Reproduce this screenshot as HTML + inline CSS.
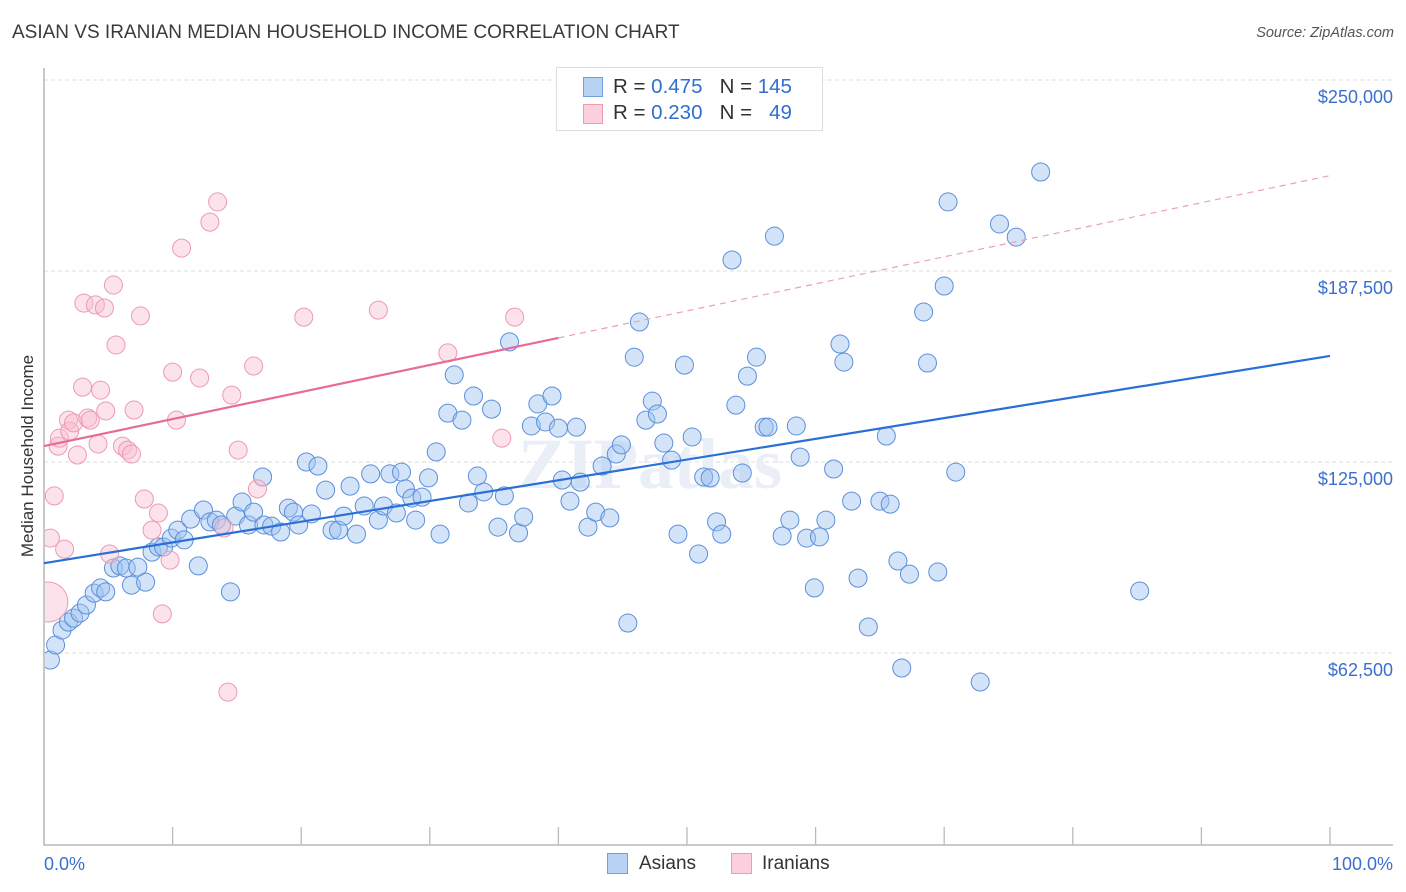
<!DOCTYPE html>
<html><head><meta charset="utf-8">
<style>
body{margin:0;background:#fff;font-family:"Liberation Sans",sans-serif;}
#wrap{position:relative;width:1406px;height:892px;overflow:hidden;}
.t{position:absolute;white-space:nowrap;}
</style></head>
<body>
<div id="wrap">
<div class="t" style="left:12px;top:22px;font-size:19px;color:#3a3a3a;">ASIAN VS IRANIAN MEDIAN HOUSEHOLD INCOME CORRELATION CHART</div>
<div class="t" style="right:12px;top:25px;font-size:14.5px;color:#555;font-style:italic;">Source: ZipAtlas.com</div>
<svg id="plot" width="1406" height="892" style="position:absolute;left:0;top:0"><defs><clipPath id="pc"><rect x="45" y="60" width="1360" height="785"/></clipPath></defs></svg>
<div class="t" style="left:28px;top:456px;font-size:17px;color:#333;transform:translate(-50%,-50%) rotate(-90deg);">Median Household Income</div>
<div style="position:absolute;left:556px;top:67px;width:265px;height:62px;border:1px solid #ddd;background:#fff;font-size:20.5px;">
 <div style="position:absolute;left:26px;top:9px;width:18px;height:18px;background:#b9d3f5;border:1px solid #6f9fe0;"></div>
 <div class="t" style="left:56px;top:7px;color:#333;">R = <span style="color:#2f6fd0">0.475</span>&nbsp;&nbsp;&nbsp;N = <span style="color:#2f6fd0">145</span></div>
 <div style="position:absolute;left:26px;top:36px;width:18px;height:18px;background:#fbd0dc;border:1px solid #ee9ab2;"></div>
 <div class="t" style="left:56px;top:33px;color:#333;">R = <span style="color:#2f6fd0">0.230</span>&nbsp;&nbsp;&nbsp;N = &nbsp;&nbsp;<span style="color:#2f6fd0">49</span></div>
</div>
<div style="position:absolute;left:607px;top:853px;width:19px;height:19px;background:#b9d3f5;border:1px solid #6f9fe0;"></div>
<div class="t" style="left:639px;top:853px;font-size:19px;color:#333;">Asians</div>
<div style="position:absolute;left:731px;top:853px;width:19px;height:19px;background:#fbd0dc;border:1px solid #ee9ab2;"></div>
<div class="t" style="left:762px;top:853px;font-size:19px;color:#333;">Iranians</div>
</div>
<script>
const yTickValues=[62.5,125,187.5,250];
const yTickLabels=["$62,500","$125,000","$187,500","$250,000"];
const xTickLabels=["0.0%","100.0%"];
const asianX=[0.5,0.9,1.4,1.9,2.3,2.8,3.3,3.9,4.4,4.8,5.4,5.9,6.4,6.8,7.3,7.9,8.4,8.9,9.3,9.9,10.4,10.9,11.4,12.0,12.4,12.9,13.4,13.8,14.5,14.9,15.4,15.9,16.3,17.1,17.7,18.4,17.0,19.0,19.4,19.8,20.4,20.8,21.3,21.9,22.4,22.9,23.3,23.8,24.3,24.9,25.4,26.0,26.4,26.9,27.4,27.8,28.1,28.6,28.9,29.4,29.9,30.5,30.8,31.4,31.9,32.5,33.0,33.4,33.7,34.2,34.8,35.3,35.8,36.2,36.9,37.3,37.9,38.4,39.0,39.5,40.0,40.3,40.9,41.4,41.7,42.3,42.9,43.4,44.0,44.5,44.9,45.4,45.9,46.3,46.8,47.3,47.7,48.2,48.8,49.3,49.8,50.4,50.9,51.3,51.8,52.3,52.7,53.5,53.8,54.3,54.7,55.4,56.0,56.3,56.8,57.4,58.0,58.5,58.8,59.3,59.9,60.3,60.8,61.4,61.9,62.2,62.8,63.3,64.1,65.0,65.5,65.8,66.4,66.7,67.3,68.4,68.7,69.5,70.0,70.3,70.9,72.8,74.3,75.6,77.5,85.2];
const asianY=[60.2,65.1,70.0,72.6,73.9,75.6,78.2,82.1,83.8,82.5,90.3,91.0,90.3,84.7,90.6,85.7,95.5,97.2,97.2,100.1,102.7,99.5,106.3,91.0,109.3,105.4,106.0,104.4,82.5,107.3,111.9,104.4,108.6,104.4,104.0,102.1,120.1,109.9,108.6,104.4,125.0,108.0,123.7,115.8,102.7,102.7,107.3,117.1,101.4,110.6,121.1,106.0,110.6,121.1,108.3,121.7,116.2,113.2,106.0,113.5,119.8,128.3,101.4,141.0,153.5,138.7,111.6,146.6,120.4,115.2,142.3,103.7,113.9,164.3,101.8,107.0,136.8,144.0,138.1,146.6,136.1,119.1,112.2,136.4,118.4,103.7,108.6,123.7,106.7,127.6,130.6,72.3,159.3,170.8,138.7,144.9,140.7,131.2,125.6,101.4,156.7,133.2,94.9,120.1,119.8,105.4,101.4,191.1,143.6,121.4,153.1,159.3,136.4,136.4,198.9,100.8,106.0,136.8,126.6,100.1,83.8,100.5,106.0,122.7,163.6,157.7,112.2,87.0,71.0,112.2,133.5,111.2,92.6,57.6,88.3,174.1,157.4,89.0,182.6,210.1,121.7,53.0,202.9,198.6,219.9,82.8];
const iranX=[0.3,0.5,0.8,1.1,1.2,1.6,1.9,2.0,2.3,2.6,3.0,3.1,3.4,3.6,4.0,4.2,4.4,4.7,4.8,5.1,5.4,5.6,6.1,6.5,6.8,7.0,7.5,7.8,8.4,8.9,9.2,9.8,10.0,10.3,10.7,12.1,12.9,13.5,14.0,14.3,14.6,15.1,16.3,16.6,20.2,26.0,31.4,35.6,36.6];
const iranY=[79.2,100.1,113.9,130.2,132.8,96.5,138.7,135.1,137.8,127.3,149.5,177.0,139.4,138.7,176.4,130.9,148.5,175.4,141.7,94.9,182.9,163.3,130.2,128.9,127.6,142.0,172.8,112.9,102.7,108.3,75.3,92.9,154.4,138.7,195.0,152.5,203.5,210.1,103.4,49.7,146.9,128.9,156.4,116.2,172.4,174.7,160.7,132.8,172.4];
const iranSize=[20].concat(Array(48).fill(9));
const asianTrend=[91.9,159.7];
const iranTrend=[130.2,218.7];
const iranSolidEnd=40;

const svg=document.getElementById('plot');
const NS='http://www.w3.org/2000/svg';
const X=p=>44+p*12.86;
const Y=v=>844-v/62.5*191;
function mk(tag,attrs,parent){const e=document.createElementNS(NS,tag);for(const k in attrs)e.setAttribute(k,attrs[k]);(parent||svg).appendChild(e);return e;}

yTickValues.forEach((v,i)=>{
 const g=mk('line',{x1:44,x2:1395,y1:Y(v),y2:Y(v),stroke:'#ddd','stroke-dasharray':'4,3'});
 
 
 const t=mk('text',{x:1393,y:Y(v)+23,'text-anchor':'end','font-size':18,fill:'#3a6fd0','font-family':'Liberation Sans, sans-serif'});
 t.textContent=yTickLabels[i];
 
 
});
const wm=mk('text',{x:650,y:488,'text-anchor':'middle','font-size':72,fill:'#eaeff7','font-family':'Liberation Serif, serif','font-weight':'bold'});
wm.textContent='ZIPatlas';



const pts=mk('g',{'clip-path':'url(#pc)'});


asianX.forEach((p,i)=>{
 const c=mk('circle',{cx:X(p),cy:Y(asianY[i]),r:9,fill:'rgba(160,196,240,0.45)',stroke:'#5b8fdc','stroke-width':1},pts);
 
 
});
iranX.forEach((p,i)=>{
 const c=mk('circle',{cx:X(p),cy:Y(iranY[i]),r:iranSize[i],fill:'rgba(248,190,208,0.45)',stroke:'#ec9ab4','stroke-width':1},pts);
 
 
});
const ax=mk('path',{d:'M44 68 V845 H1393',stroke:'#aaa','stroke-width':1.3,fill:'none'});


for(let i=1;i<=10;i++){
 const tk=mk('line',{x1:X(i*10),x2:X(i*10),y1:827,y2:845,stroke:'#bbb','stroke-width':1.3});
 
 
}
[[0,'start',44],[1,'end',1393]].forEach(([i,a,x])=>{
 const t=mk('text',{x:x,y:870,'text-anchor':a,'font-size':18,fill:'#3a6fd0','font-family':'Liberation Sans, sans-serif'});
 t.textContent=xTickLabels[i];
 
 
});
const bl=mk('line',{x1:X(0),y1:Y(asianTrend[0]),x2:X(100),y2:Y(asianTrend[1]),stroke:'#2a6fd6','stroke-width':2.2});


const iy=v=>iranTrend[0]+(iranTrend[1]-iranTrend[0])*v/100;
const pl=mk('line',{x1:X(0),y1:Y(iy(0)),x2:X(iranSolidEnd),y2:Y(iy(iranSolidEnd)),stroke:'#e86a96','stroke-width':2.2});


const pd=mk('line',{x1:X(iranSolidEnd),y1:Y(iy(iranSolidEnd)),x2:X(100),y2:Y(iy(100)),stroke:'#eaa0b8','stroke-width':1.2,'stroke-dasharray':'6,5'});


</script>
</body></html>
